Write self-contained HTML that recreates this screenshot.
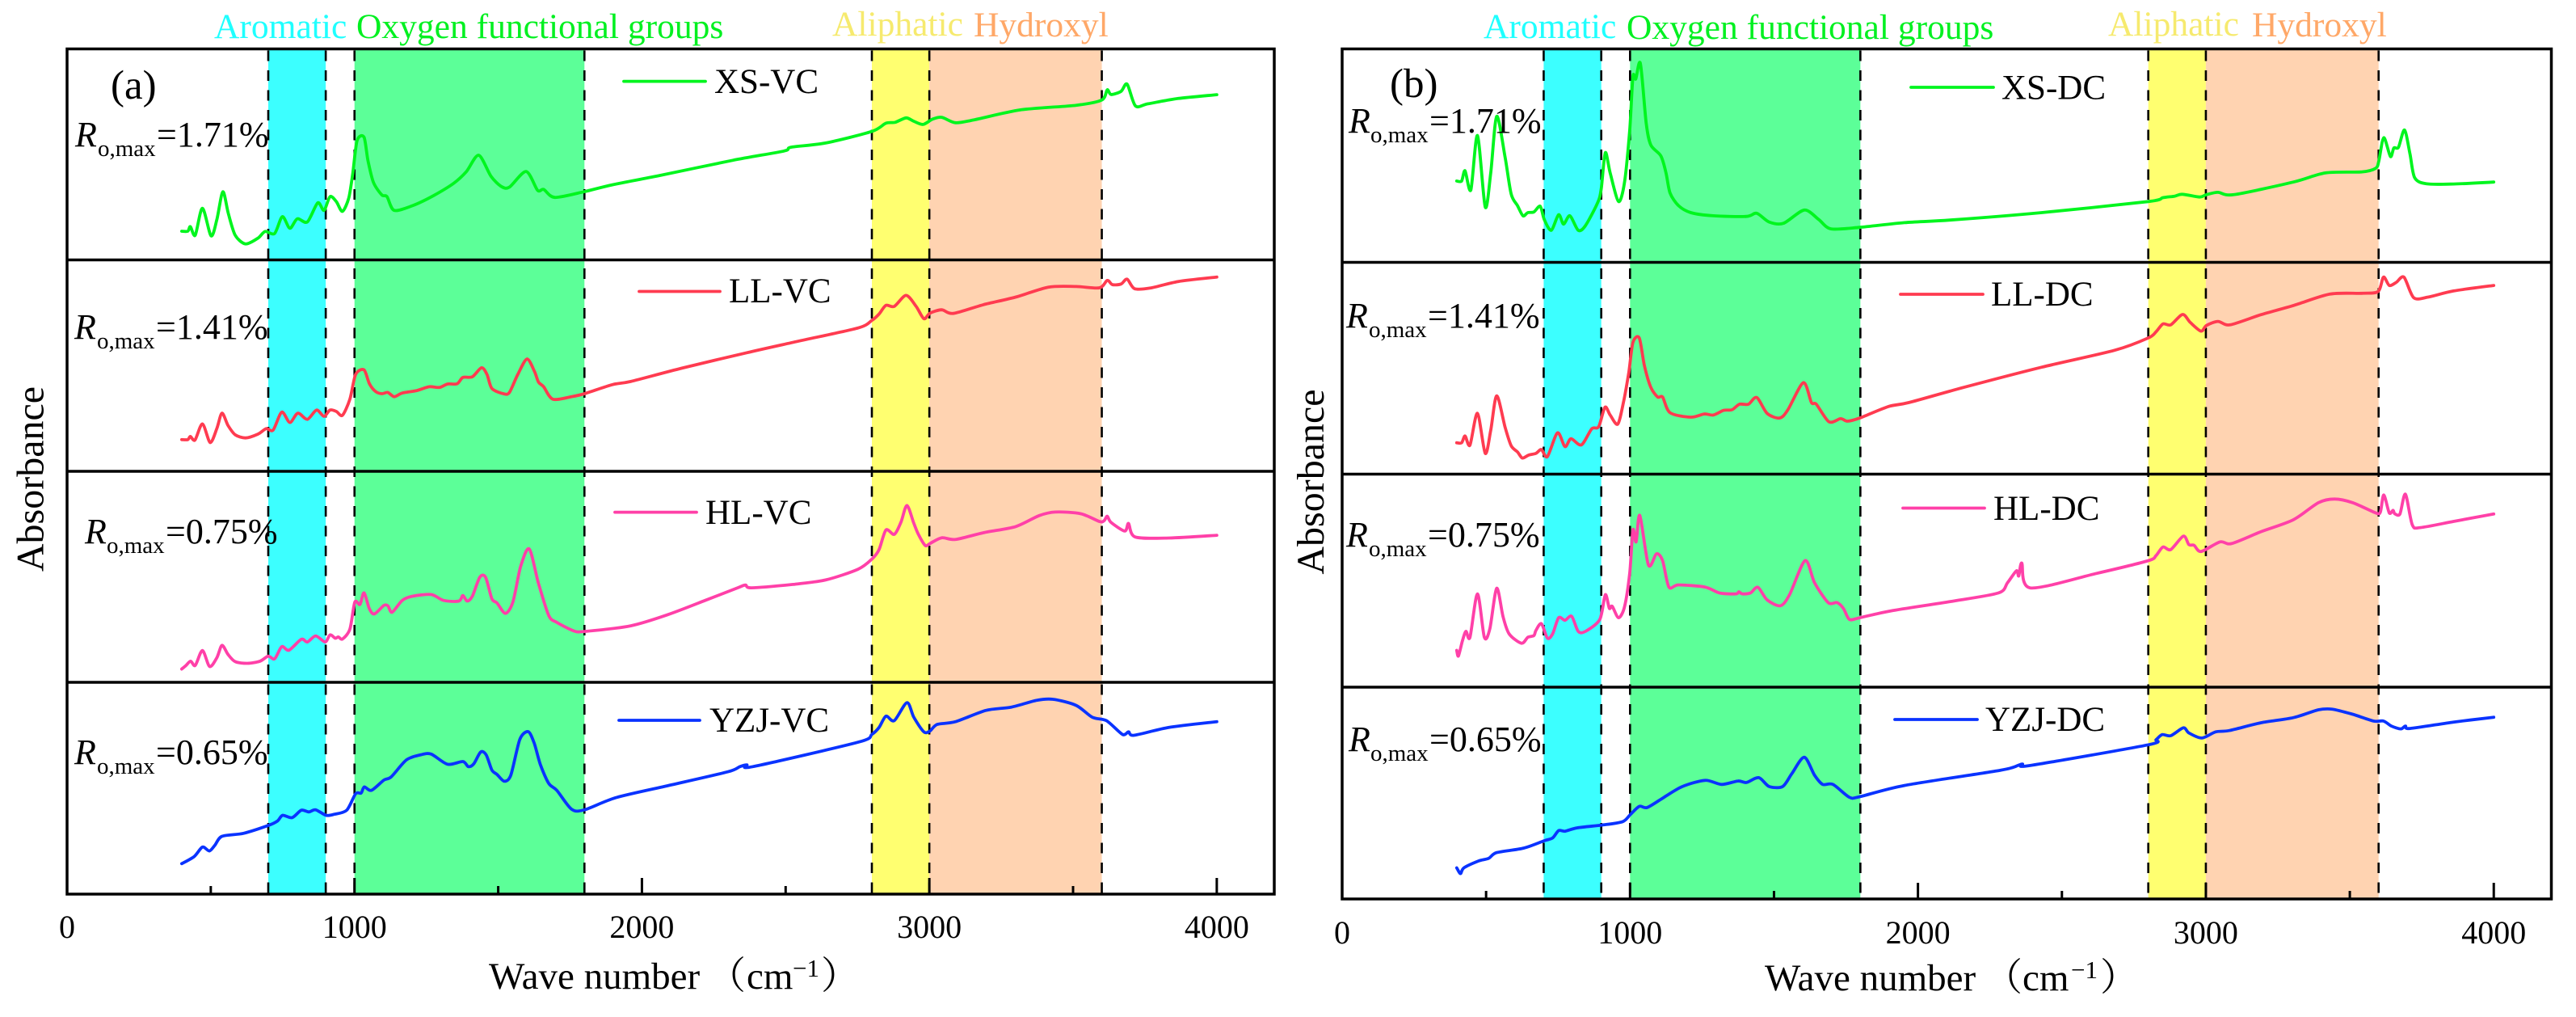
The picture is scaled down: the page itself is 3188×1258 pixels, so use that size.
<!DOCTYPE html>
<html lang="en">
<head>
<meta charset="utf-8">
<title>FTIR absorbance spectra of VC and DC samples</title>
<style>
html,body{margin:0;padding:0;background:#fff;}
svg{display:block;font-family:"Liberation Serif","Noto Serif CJK SC",serif;}
.tick{font-size:40px;fill:#000;text-anchor:middle;}
.leg{font-size:43px;fill:#000;}
.ro{font-size:44px;fill:#000;}
.top{font-size:43.5px;}
.axt{font-size:47px;fill:#000;}
</style>
</head>
<body>
<svg id="chart" xmlns="http://www.w3.org/2000/svg" width="3188" height="1258" viewBox="0 0 3188 1258">
  <rect x="0" y="0" width="3188" height="1258" fill="#ffffff"/>
  <g id="marks"></g>

  <g class="top">
    <text x="265" y="47" fill="#1fffff">Aromatic</text>
    <text x="441" y="47" fill="#00f020">Oxygen functional groups</text>
    <text x="1030" y="44" fill="#f6ea6e">Aliphatic</text>
    <text x="1205" y="45" fill="#ffa868">Hydroxyl</text>
  </g>
  <g class="top">
    <text x="1836" y="47" fill="#1fffff">Aromatic</text>
    <text x="2013" y="48" fill="#00f020">Oxygen functional groups</text>
    <text x="2609" y="44" fill="#f6ea6e">Aliphatic</text>
    <text x="2787" y="45" fill="#ffa868">Hydroxyl</text>
  </g>

  <text x="137" y="122" font-size="51">(a)</text>
  <text x="1720" y="120" font-size="51">(b)</text>

  <g class="ro">
    <text x="93" y="181"><tspan font-style="italic">R</tspan><tspan x="121" dy="12" font-size="29">o,max</tspan><tspan x="194" dy="-12">=1.71%</tspan></text>
    <text x="92" y="419"><tspan font-style="italic">R</tspan><tspan x="120" dy="12" font-size="29">o,max</tspan><tspan x="193" dy="-12">=1.41%</tspan></text>
    <text x="105" y="672"><tspan font-style="italic">R</tspan><tspan x="132" dy="12" font-size="29">o,max</tspan><tspan x="205" dy="-12">=0.75%</tspan></text>
    <text x="92" y="945"><tspan font-style="italic">R</tspan><tspan x="120" dy="12" font-size="29">o,max</tspan><tspan x="193" dy="-12">=0.65%</tspan></text>
  </g>
  <g class="ro">
    <text x="1669" y="164"><tspan font-style="italic">R</tspan><tspan x="1696" dy="12" font-size="29">o,max</tspan><tspan x="1769" dy="-12">=1.71%</tspan></text>
    <text x="1666" y="405"><tspan font-style="italic">R</tspan><tspan x="1694" dy="12" font-size="29">o,max</tspan><tspan x="1767" dy="-12">=1.41%</tspan></text>
    <text x="1666" y="676"><tspan font-style="italic">R</tspan><tspan x="1694" dy="12" font-size="29">o,max</tspan><tspan x="1767" dy="-12">=0.75%</tspan></text>
    <text x="1669" y="929"><tspan font-style="italic">R</tspan><tspan x="1696" dy="12" font-size="29">o,max</tspan><tspan x="1769" dy="-12">=0.65%</tspan></text>
  </g>

  <g stroke-width="3.8" stroke-linecap="round">
    <line x1="772" y1="100.6" x2="873" y2="100.6" stroke="#00f51e"/>
    <text class="leg" stroke="none" x="884" y="115">XS-VC</text>
    <line x1="791" y1="360.5" x2="891" y2="360.5" stroke="#ff3b50"/>
    <text class="leg" stroke="none" x="902" y="374">LL-VC</text>
    <line x1="761" y1="633.6" x2="862" y2="633.6" stroke="#ff40a8"/>
    <text class="leg" stroke="none" x="873" y="648">HL-VC</text>
    <line x1="766" y1="891" x2="866" y2="891" stroke="#0a33ff"/>
    <text class="leg" stroke="none" x="878" y="905">YZJ-VC</text>
  </g>
  <g stroke-width="3.8" stroke-linecap="round">
    <line x1="2365" y1="108" x2="2467" y2="108" stroke="#00f51e"/>
    <text class="leg" stroke="none" x="2477" y="122.5">XS-DC</text>
    <line x1="2352" y1="364" x2="2454" y2="364" stroke="#ff3b50"/>
    <text class="leg" stroke="none" x="2464" y="378">LL-DC</text>
    <line x1="2355" y1="628.5" x2="2456" y2="628.5" stroke="#ff40a8"/>
    <text class="leg" stroke="none" x="2467" y="643">HL-DC</text>
    <line x1="2345" y1="890" x2="2447" y2="890" stroke="#0a33ff"/>
    <text class="leg" stroke="none" x="2457" y="904">YZJ-DC</text>
  </g>

  <text class="axt" transform="translate(53.5,592.5) rotate(-90)" text-anchor="middle" style="font-size:48px">Absorbance</text>
  <text class="axt" transform="translate(1638,596) rotate(-90)" text-anchor="middle" style="font-size:48px">Absorbance</text>

  <text class="axt" x="605" y="1223">Wave number<tspan x="876">（</tspan><tspan x="924">cm</tspan><tspan x="981" y="1208" font-size="31">−1</tspan><tspan x="1016" y="1223">）</tspan></text>
  <text class="axt" x="2184" y="1225">Wave number<tspan x="2456">（</tspan><tspan x="2503">cm</tspan><tspan x="2563" y="1210" font-size="31">−1</tspan><tspan x="2599" y="1225">）</tspan></text>
</svg>

<script>
const xTickLabels = [0, 1000, 2000, 3000, 4000];
const xMinorTicks = [500, 1500, 2500, 3500];
const bandStarts = [700, 1000, 2800, 3000];
const bandEnds = [900, 1800, 3000, 3600];
const dashedMarkers = [700, 900, 1000, 1800, 2800, 3000, 3600];

const xsVcWave = [399,420,429,446,471,501,521,542,561,585,621,664,689,722,749,775,801,836,872,894,915,937,958,980,994,1009,1033,1047,1066,1095,1113,1138,1202,1274,1346,1389,1432,1475,1511,1539,1597,1637,1658,1697,1798,1897,2058,2316,2494,2518,2639,2800,2849,2881,2919,2946,2978,3011,3043,3091,3156,3317,3511,3600,3619,3632,3667,3688,3717,3761,3866,4000];
const xsVcAbs = [13.6,13.6,15.8,11.7,24.5,11.4,19,32.3,22,11.7,7.6,10.3,13.5,12.5,20.5,15,19.5,18,27,23.5,30,27.6,23,29.3,41,56.5,58.2,47,36.7,30.8,30,23.5,25.7,30.4,36.4,41.8,49.6,39.6,34.8,34.5,41.9,33,33.4,29.6,32.3,35.6,39.9,47.2,51.6,53.4,55.4,60.9,64.8,65.2,67.3,65.7,64.2,66.7,67.6,65,66.4,71.1,73.3,75.8,80.6,78.4,79.9,83.3,73,74,76.5,78.3];

const llVcWave = [399,420,429,445,471,498,521,539,560,585,621,664,693,717,747,775,803,836,868,894,915,937,958,984,1004,1033,1052,1073,1095,1116,1138,1166,1217,1260,1296,1324,1357,1377,1410,1442,1461,1478,1518,1539,1568,1600,1626,1640,1658,1690,1755,1800,1897,1961,2139,2365,2542,2752,2800,2825,2849,2878,2919,2954,2981,3002,3043,3083,3188,3300,3414,3511,3592,3619,3637,3667,3688,3714,3769,3866,4000];
const llVcAbs = [15,15,16.5,14.8,22.4,13.6,20.2,27.5,21.7,17.3,15.8,17.6,20.2,19.5,28,23.1,27.5,24.6,29,26,29,28.3,26.5,34.1,45.8,48,41.4,37.8,36.7,37.3,35.3,37,38.2,40,39.7,41.3,41.4,44.4,44.7,49,45.8,39.2,36.7,37.3,45.8,53.1,47.3,42.2,40,34.1,35.3,36.7,41,42.5,48.8,56.1,61.5,67.8,71.4,74.4,78.5,78,83.2,78,72.2,74.8,76.4,74.7,78.8,82.4,87.1,87.4,86.8,90.3,88.3,88.6,90.9,86.4,86.7,89.8,91.9];

const hlVcWave = [399,413,430,446,471,496,521,539,560,585,628,671,700,722,747,772,815,836,865,898,915,933,944,958,984,1001,1019,1033,1052,1069,1102,1116,1131,1166,1202,1267,1310,1363,1377,1392,1410,1436,1456,1478,1496,1525,1551,1578,1608,1640,1676,1704,1762,1800,1961,2091,2220,2333,2360,2381,2526,2639,2752,2800,2825,2849,2878,2901,2922,2946,2962,2986,3002,3043,3091,3188,3300,3382,3438,3527,3592,3608,3619,3632,3680,3693,3716,3834,4000];
const hlVcAbs = [6.3,7.9,10,8,15.1,7.5,11.6,17.5,13.2,9.8,9,10,12.4,11.1,16.9,15.2,20.4,19.1,22,19.1,22.5,20.9,21.5,20.5,25.2,38,36.9,42.4,34.8,32.4,36.4,36.3,33.2,38.8,40.8,41.6,38.8,38.5,41.1,38.5,40.8,49.8,49.8,39.6,37.6,32.7,38,54.9,63.2,46.9,31.6,28.4,24.4,24.1,26.8,32.1,38.8,44.8,46.1,44.8,46.4,48.5,53.6,58.4,62.9,72.2,70.1,75.8,83.8,75.4,70.1,64.8,65.8,68.5,67.7,70.9,73.8,79,80.7,79.9,76.2,76.6,78.7,75.8,71.7,75.3,68.9,68.4,69.7];

const yzjVcWave = [399,442,471,495,514,539,614,700,732,750,783,815,841,865,901,930,973,1004,1023,1034,1059,1102,1128,1181,1231,1267,1324,1377,1396,1415,1439,1458,1478,1496,1521,1544,1575,1604,1625,1647,1676,1704,1755,1800,1913,2107,2300,2341,2365,2386,2752,2800,2825,2849,2878,2922,2946,2981,3002,3027,3091,3196,3285,3374,3430,3511,3567,3616,3672,3693,3712,3834,4000];
const yzjVcAbs = [14.4,17.7,22.2,20.4,23,27.3,28.7,32.4,34.5,37.2,36.1,39.6,38.8,39.8,37.2,37.7,39.6,47.4,47.7,50.6,49,53.8,55.4,63.4,65.8,66.1,61.3,62.6,60.2,61.5,67.1,65.8,58.6,56.5,53.3,56.2,73,76.7,71.4,61,52.2,49,40.1,39.8,45.7,51.7,57.8,60.2,61,60.2,71.7,75.4,78.7,84,81.9,90.4,83.5,76.6,77,80.1,81.4,86.7,88.3,91.5,92,89.1,83.5,81.9,75.4,76.6,75,78.7,81.4];

const xsDcWave = [398,415,427,447,470,497,516,537,566,587,609,628,645,666,688,702,726,752,769,791,820,845,888,900,914,931,960,981,999,1010,1020,1036,1056,1072,1107,1125,1139,1168,1211,1289,1404,1440,1483,1533,1605,1655,1698,1798,1953,2112,2430,2800,2851,2891,2918,2978,3002,3042,3097,3304,3415,3542,3590,3601,3618,3641,3653,3669,3690,3709,3725,3765,3860,4000];
const xsDcAbs = [38.1,38.1,42.9,33.9,59.4,25.9,41.9,68.4,49.2,32,26.6,21.8,23.3,23.6,26.3,20.1,15,22.3,17.9,21.8,15,17.2,28.1,34.6,51.4,41.9,28.5,37.6,62.3,87,85.9,93.2,65.2,55,49.9,41.9,32.5,26.6,23.3,21.8,21.5,23,18.9,18.3,24.5,20.1,15.7,16.4,18.6,19.8,23.3,28.5,30.3,31,31.9,30.6,31.7,32.8,31.7,37.6,41.9,42.4,44.1,47.7,58.4,49.6,53.6,53.9,62,50.7,39.7,36.8,36.7,37.6];

const llDcWave = [398,415,427,444,470,497,516,537,566,587,609,626,648,673,692,713,748,774,795,831,867,891,913,931,957,977,996,1010,1032,1050,1072,1096,1113,1139,1211,1258,1289,1325,1354,1380,1411,1440,1476,1519,1547,1602,1630,1647,1691,1731,1755,1798,1897,1969,2160,2430,2684,2800,2827,2851,2878,2919,2946,2983,3002,3042,3084,3192,3304,3431,3542,3598,3617,3637,3661,3688,3722,3772,3860,4000];
const llDcAbs = [14.8,14.8,18,13.7,28.7,9.8,20.7,37,22.1,13.4,10.5,7.6,9,9.8,11.6,8.3,19.5,13,16.7,13.8,21.4,22.4,31.6,27.9,23.6,33.8,48.3,62.2,64.3,51.2,41,36.4,36.4,29,26.9,28.4,27.9,30.1,30.4,33,33,36.2,28.7,26.5,30.1,43.2,33.8,33,24.7,26.2,25,26.5,31.9,33.8,41,50.5,58.5,64.3,67.2,70.9,70.5,75.4,71.6,67.5,70.2,72.1,70.5,75.3,79.6,85,85.4,86.2,93,89.1,90.5,93,83.3,83.6,86.5,89.1];

const hlDcWave = [398,404,418,430,444,470,494,513,537,559,580,623,645,666,673,692,713,731,752,774,797,820,845,895,914,928,938,960,981,999,1010,1021,1034,1064,1092,1113,1135,1168,1261,1311,1368,1378,1390,1418,1444,1476,1522,1554,1608,1641,1688,1719,1741,1762,1798,1905,2112,2279,2311,2342,2350,2361,2390,2620,2800,2827,2851,2878,2922,2941,2959,2983,3049,3089,3192,3304,3391,3447,3510,3590,3606,3618,3637,3650,3656,3674,3693,3717,3745,3860,4000];
const hlDcAbs = [17.3,14.6,21.8,26.2,23.4,43.8,23.4,27.4,46.4,33,25,20.6,23.4,24.2,26.6,29.8,23,25,32.6,31.4,33.3,26.2,26.2,31.8,43.4,37,38,32.6,37.8,53.8,73.8,68.2,80.6,57.3,62.6,59.4,47,48,47,44.2,43.8,44.8,43.8,44.2,46.9,41,38.2,43.4,59.4,49,39.7,39.7,37,31.8,32.6,35.8,40.2,44.2,49,54.6,52.2,58.2,46.6,53.4,59.4,61.8,65.8,64.6,70.9,66.9,66.6,63.7,68.2,67.4,73,78.6,86.6,88.3,86.6,81.8,82.2,90.2,81.8,83,81.4,81.3,90.6,76.2,74.9,77.8,81.3];

const yzjDcWave = [398,411,423,473,509,537,630,702,731,752,774,817,903,974,1000,1032,1060,1118,1182,1261,1318,1375,1404,1447,1483,1530,1562,1605,1641,1669,1705,1762,1798,1953,2287,2350,2363,2390,2800,2827,2848,2878,2922,2941,2986,3034,3081,3192,3304,3391,3439,3510,3582,3617,3645,3677,3693,3709,3860,4000];
const yzjDcAbs = [14.7,12,14.7,17.9,19.2,21.9,24,27.5,28.8,32.3,32,33.6,34.9,36.5,39.7,43.7,43.2,48,53.1,56,54.1,55.7,55,57.3,53.1,53.1,59.2,66.9,58.4,54.1,54.1,48,48.3,53.6,60.8,63.2,63.7,63,72.8,75.2,77.6,77.1,80.8,78.4,76,78.9,79.5,83.2,85.6,89.3,89.6,87.2,84,84,81.6,80.3,81.6,80.5,83.5,85.8];

const svgNS = 'http://www.w3.org/2000/svg';
const marks = document.getElementById('marks');
const XMAX = 4200;
const YMAX = 100;
const bandFills = ['#3cffff', '#5cff98', '#ffff70', '#ffd3b1'];
const bandNames = ['aromatic-band', 'oxygen-band', 'aliphatic-band', 'hydroxyl-band'];

const panels = [
  { id: 'a', left: 83, right: 1577, rows: [60.5, 321.5, 583, 844, 1106], tickY: 1160,
    series: [
      { name: 'xs-vc', wave: xsVcWave, abs: xsVcAbs, color: '#00f51e' },
      { name: 'll-vc', wave: llVcWave, abs: llVcAbs, color: '#ff3b50' },
      { name: 'hl-vc', wave: hlVcWave, abs: hlVcAbs, color: '#ff40a8' },
      { name: 'yzj-vc', wave: yzjVcWave, abs: yzjVcAbs, color: '#0a33ff' }
    ] },
  { id: 'b', left: 1661, right: 3157.5, rows: [60.5, 324.5, 586.5, 850, 1112], tickY: 1167,
    series: [
      { name: 'xs-dc', wave: xsDcWave, abs: xsDcAbs, color: '#00f51e' },
      { name: 'll-dc', wave: llDcWave, abs: llDcAbs, color: '#ff3b50' },
      { name: 'hl-dc', wave: hlDcWave, abs: hlDcAbs, color: '#ff40a8' },
      { name: 'yzj-dc', wave: yzjDcWave, abs: yzjDcAbs, color: '#0a33ff' }
    ] }
];

function makeLine(x1, y1, x2, y2, width, dash) {
  const line = document.createElementNS(svgNS, 'line');
  line.setAttribute('x1', x1);
  line.setAttribute('y1', y1);
  line.setAttribute('x2', x2);
  line.setAttribute('y2', y2);
  line.setAttribute('stroke', '#000');
  line.setAttribute('stroke-width', width);
  if (dash) line.setAttribute('stroke-dasharray', dash);
  return line;
}

/* Catmull-Rom smoothing through the projected data points. */
function smoothPath(xs, ys) {
  const k = 0.14;
  let d = 'M' + xs[0].toFixed(1) + ' ' + ys[0].toFixed(1);
  for (let i = 0; i < xs.length - 1; i++) {
    const a = Math.max(i - 1, 0);
    const c = i + 1;
    const e = Math.min(i + 2, xs.length - 1);
    const c1x = xs[i] + (xs[c] - xs[a]) * k;
    const c1y = ys[i] + (ys[c] - ys[a]) * k;
    const c2x = xs[c] - (xs[e] - xs[i]) * k;
    const c2y = ys[c] - (ys[e] - ys[i]) * k;
    d += 'C' + c1x.toFixed(1) + ' ' + c1y.toFixed(1) + ' ' + c2x.toFixed(1) + ' ' + c2y.toFixed(1) + ' ' + xs[c].toFixed(1) + ' ' + ys[c].toFixed(1);
  }
  return d;
}

panels.forEach(function (p) {
  const xScale = function (w) { return p.left + (w / XMAX) * (p.right - p.left); };
  const yScale = function (row, v) {
    const top = p.rows[row];
    const bottom = p.rows[row + 1];
    return bottom - (v / YMAX) * (bottom - top);
  };
  const top = p.rows[0];
  const bottom = p.rows[p.rows.length - 1];

  bandStarts.forEach(function (start, i) {
    const band = document.createElementNS(svgNS, 'rect');
    
    
    band.setAttribute('x', xScale(start));
    band.setAttribute('y', top);
    band.setAttribute('width', xScale(bandEnds[i]) - xScale(start));
    band.setAttribute('height', bottom - top);
    band.setAttribute('fill', bandFills[i]);
    marks.appendChild(band);
  });

  dashedMarkers.forEach(function (w) {
    const dashed = makeLine(xScale(w), top + 2, xScale(w), bottom, 2.6, '13 11.5');
    
    
    marks.appendChild(dashed);
  });

  p.series.forEach(function (s, row) {
    const xs = s.wave.map(function (w) { return xScale(w); });
    const ys = s.abs.map(function (v) { return yScale(row, v); });
    const curve = document.createElementNS(svgNS, 'path');
    
    
    curve.setAttribute('d', smoothPath(xs, ys));
    curve.setAttribute('fill', 'none');
    curve.setAttribute('stroke', s.color);
    curve.setAttribute('stroke-width', '3.8');
    curve.setAttribute('stroke-linejoin', 'round');
    curve.setAttribute('stroke-linecap', 'round');
    marks.appendChild(curve);
  });

  p.rows.slice(1, -1).forEach(function (y, i) {
    const divider = makeLine(p.left, y, p.right, y, 3.5);
    
    
    marks.appendChild(divider);
  });

  const frame = document.createElementNS(svgNS, 'rect');
  
  
  frame.setAttribute('x', p.left);
  frame.setAttribute('y', top);
  frame.setAttribute('width', p.right - p.left);
  frame.setAttribute('height', bottom - top);
  frame.setAttribute('fill', 'none');
  frame.setAttribute('stroke', '#000');
  frame.setAttribute('stroke-width', '3.5');
  marks.appendChild(frame);

  xTickLabels.forEach(function (w) {
    const tick = makeLine(xScale(w), bottom, xScale(w), bottom - 20, 3);
    
    
    marks.appendChild(tick);
    const label = document.createElementNS(svgNS, 'text');
    
    
    label.setAttribute('class', 'tick');
    label.setAttribute('x', xScale(w));
    label.setAttribute('y', p.tickY);
    label.textContent = String(w);
    marks.appendChild(label);
  });

  xMinorTicks.forEach(function (w) {
    const minor = makeLine(xScale(w), bottom, xScale(w), bottom - 10, 3);
    
    
    marks.appendChild(minor);
  });
});
</script>
</body>
</html>
